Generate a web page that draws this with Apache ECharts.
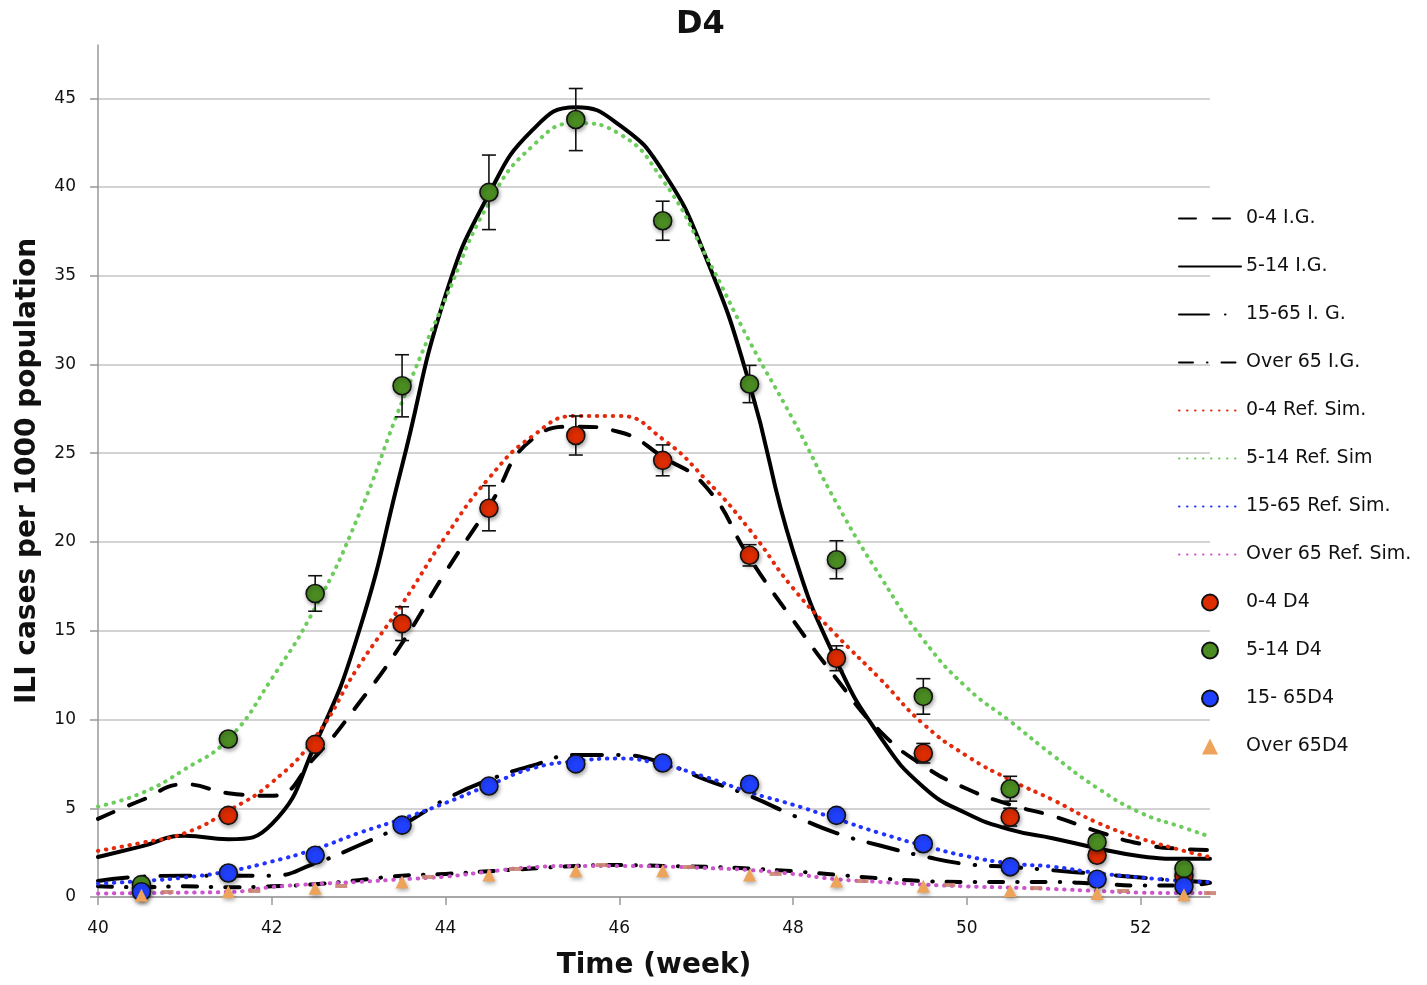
<!DOCTYPE html>
<html>
<head>
<meta charset="utf-8">
<title>D4</title>
<script src="https://cdn.jsdelivr.net/npm/echarts@6/dist/echarts.min.js"></script>
<style>
  html, body { margin: 0; padding: 0; background: #fff; }
  #chart { width: 1427px; height: 985px; }
</style>
</head>
<body>
<div id="chart"></div>
<script>
// weeks where the smooth curves are sampled
const curveWeeks = [40, 40.5, 41, 41.5, 42, 42.5, 43, 43.5, 44, 44.5, 45, 45.5, 46, 46.5, 47, 47.5, 48, 48.5, 49, 49.5, 50, 50.5, 51, 51.5, 52, 52.5, 52.8];

// I.G. curves (black)
const ig0to4 = [4.4, 5.45, 6.35, 5.85, 5.7, 7.9, 10.9, 14.3, 18.3, 22.0, 25.8, 26.5, 26.2, 24.8, 23.1, 19.1, 15.6, 12.3, 9.35, 7.4, 6.1, 5.2, 4.55, 3.7, 3.0, 2.7, 2.65];
const ig5to14 = [2.25, 2.85, 3.45, 3.25, 4.1, 8.6, 14.9, 24.3, 33.9, 39.6, 43.2, 44.5, 43.5, 40.9, 36.0, 28.9, 19.5, 13.3, 9.05, 6.2, 4.7, 3.8, 3.3, 2.75, 2.3, 2.15, 2.15];
const ig15to65 = [0.9, 1.15, 1.2, 1.2, 1.2, 1.9, 2.9, 4.05, 5.5, 6.6, 7.4, 8.0, 8.0, 7.55, 6.6, 5.7, 4.6, 3.6, 2.9, 2.3, 1.85, 1.7, 1.5, 1.3, 1.1, 0.9, 0.85];
const igOver65 = [0.6, 0.55, 0.6, 0.55, 0.6, 0.72, 0.95, 1.2, 1.3, 1.45, 1.6, 1.75, 1.8, 1.75, 1.7, 1.6, 1.45, 1.25, 1.05, 0.9, 0.85, 0.85, 0.85, 0.75, 0.65, 0.65, 0.8];

// Ref. Sim. curves (dotted)
const sim0to4 = [2.6, 3.05, 3.6, 4.85, 6.45, 9.0, 13.0, 16.5, 20.3, 23.6, 25.96, 27.1, 27.1, 25.8, 23.5, 20.7, 17.4, 14.75, 12.3, 9.75, 7.95, 6.6, 5.45, 4.2, 3.3, 2.6, 2.25];
const sim5to14 = [5.1, 5.85, 7.2, 8.9, 12.3, 16.3, 21.5, 27.9, 33.7, 39.1, 42.3, 43.6, 43.0, 40.4, 36.1, 31.3, 26.9, 22.2, 18.1, 14.5, 11.8, 9.9, 7.95, 6.15, 4.75, 3.9, 3.4];
const sim15to65 = [0.75, 0.9, 1.1, 1.45, 2.0, 2.7, 3.6, 4.4, 5.3, 6.3, 7.25, 7.65, 7.8, 7.45, 6.75, 5.9, 5.2, 4.4, 3.6, 2.9, 2.3, 1.9, 1.7, 1.35, 1.1, 0.9, 0.85];
const simOver65 = [0.2, 0.22, 0.25, 0.28, 0.56, 0.73, 0.85, 1.0, 1.15, 1.43, 1.68, 1.75, 1.75, 1.72, 1.63, 1.52, 1.3, 1.0, 0.85, 0.7, 0.6, 0.53, 0.45, 0.34, 0.25, 0.22, 0.22];

// small brownish marks sitting on the Over 65 Ref. Sim. curve
const simOver65MarkWeeks = [40.8, 41.8, 42.8, 43.8, 44.8, 45.8, 46.8, 47.8, 48.8, 49.8, 50.8, 51.8, 52.8];
const simOver65Marks = [0.28, 0.34, 0.62, 1.13, 1.58, 1.8, 1.69, 1.3, 0.9, 0.68, 0.5, 0.34, 0.22];

// D4 observations
const pointWeeks = [40.5, 41.5, 42.5, 43.5, 44.5, 45.5, 46.5, 47.5, 48.5, 49.5, 50.5, 51.5, 52.5];
const d4Age0to4 = [0.5, 4.6, 8.6, 15.4, 21.9, 26.0, 24.6, 19.25, 13.45, 8.1, 4.5, 2.35, 1.2];
const d4Age0to4Err = [0, 0, 0.3, 0.95, 1.27, 1.1, 0.87, 0.6, 0.7, 0.55, 0.5, 0, 0];
const d4Age5to14 = [0.7, 8.9, 17.1, 28.8, 39.7, 43.8, 38.1, 28.9, 19.0, 11.3, 6.1, 3.1, 1.6];
const d4Age5to14Err = [0, 0, 1.0, 1.75, 2.1, 1.75, 1.1, 1.05, 1.07, 1.0, 0.7, 0, 0];
const d4Age15to65 = [0.3, 1.35, 2.35, 4.05, 6.25, 7.5, 7.55, 6.35, 4.6, 3.0, 1.7, 1.0, 0.6];
const d4Over65 = [0.1, 0.3, 0.5, 0.85, 1.24, 1.48, 1.48, 1.24, 0.9, 0.6, 0.35, 0.2, 0.12];

const xTicks = [40, 42, 44, 46, 48, 50, 52];
const yTicks = [0, 5, 10, 15, 20, 25, 30, 35, 40, 45];

const FONT = "'DejaVu Sans', 'Lucida Grande', sans-serif";
const TRIANGLE = "path://M0,-1L1,1L-1,1Z";
const chart = echarts.init(document.getElementById("chart"));

function pairUp(xs, ys) {
  return xs.map((x, i) => [x, ys[i]]);
}

function withErrors(xs, ys, errs) {
  return xs.map((x, i) => [x, ys[i], errs[i]]);
}

function curveSeries(name, values, color, width, dash) {
  return {
    name,
    type: "line",
    data: pairUp(curveWeeks, values),
    smooth: 0.5,
    symbol: "none",
    z: 2,
    lineStyle: { color, width, type: dash, cap: "round", join: "round" },
    itemStyle: { color },
  };
}

function scatterSeries(name, values, color, symbol, size, border) {
  return {
    name,
    type: "scatter",
    data: pairUp(pointWeeks, values),
    symbol,
    symbolSize: size,
    symbolKeepAspect: true,
    z: 5,
    itemStyle: {
      color,
      opacity: 1,
      borderColor: border ? "#111" : color,
      borderWidth: border ? 1.6 : 0,
      shadowColor: "rgba(0, 0, 0, 0.35)",
      shadowBlur: 4,
      shadowOffsetX: 1,
      shadowOffsetY: 2,
    },
  };
}

function renderErrorBar(params, api) {
  const x = api.value(0);
  const y = api.value(1);
  const err = api.value(2);
  if (!err) {
    return null;
  }
  const top = api.coord([x, y + err]);
  const bottom = api.coord([x, y - err]);
  const half = 7;
  const style = { stroke: "#111", lineWidth: 1.6 };
  return {
    type: "group",
    children: [
      { type: "line", shape: { x1: top[0], y1: top[1], x2: bottom[0], y2: bottom[1] }, style },
      { type: "line", shape: { x1: top[0] - half, y1: top[1], x2: top[0] + half, y2: top[1] }, style },
      { type: "line", shape: { x1: bottom[0] - half, y1: bottom[1], x2: bottom[0] + half, y2: bottom[1] }, style },
    ],
  };
}

function errorSeries(data) {
  return {
    type: "custom",
    data,
    z: 4,
    silent: true,
    encode: { x: 0, y: 1 },
    renderItem: renderErrorBar,
  };
}

// line entries show only the stroke, no marker
function lineEntry(name) {
  return { name, itemStyle: { opacity: 0 } };
}

const DOTS = [0.5, 7.5];

chart.setOption({
  animation: false,
  backgroundColor: "#fff",
  title: {
    text: "D4",
    left: 671,
    top: 4,
    textStyle: { fontFamily: FONT, fontSize: 32, fontWeight: "bold", color: "#111" },
  },
  legend: {
    orient: "vertical",
    left: 1173,
    top: 204,
    itemWidth: 62,
    itemHeight: 16,
    itemGap: 29,
    selectedMode: false,
    symbolKeepAspect: true,
    textStyle: { fontFamily: FONT, fontSize: 19, color: "#111" },
    data: [
      lineEntry("0-4 I.G."), lineEntry("5-14 I.G."), lineEntry("15-65 I. G."), lineEntry("Over 65 I.G."),
      lineEntry("0-4 Ref. Sim."), lineEntry("5-14 Ref. Sim"), lineEntry("15-65 Ref. Sim."), lineEntry("Over 65 Ref. Sim."),
      "0-4 D4", "5-14 D4", "15- 65D4", "Over 65D4",
    ],
  },
  grid: { left: 98, right: 217, top: 45, bottom: 87 },
  xAxis: {
    type: "value",
    min: 40,
    max: 52.8,
    interval: 2,
    name: "Time (week)",
    nameLocation: "middle",
    nameGap: 55,
    nameTextStyle: { fontFamily: FONT, fontSize: 28, fontWeight: "bold", color: "#111" },
    axisLine: { lineStyle: { color: "#999", width: 1.5 } },
    axisTick: { show: true, length: 8, customValues: xTicks, lineStyle: { color: "#999", width: 1.5 } },
    axisLabel: { fontFamily: FONT, fontSize: 17, color: "#111", margin: 23, customValues: xTicks },
    splitLine: { show: false },
  },
  yAxis: {
    type: "value",
    min: 0,
    max: 48,
    interval: 5,
    name: "ILI cases per 1000 population",
    nameLocation: "middle",
    nameRotate: 90,
    nameGap: 56,
    nameTextStyle: { fontFamily: FONT, fontSize: 28, fontWeight: "bold", color: "#111" },
    axisLine: { show: true, lineStyle: { color: "#999", width: 1.5 } },
    axisTick: { show: true, length: 8, customValues: yTicks, lineStyle: { color: "#999", width: 1.5 } },
    axisLabel: { fontFamily: FONT, fontSize: 17, color: "#111", margin: 22, customValues: yTicks },
    splitLine: { show: true, lineStyle: { color: "#c4c4c4", width: 1.5 } },
  },
  series: [
    curveSeries("0-4 I.G.", ig0to4, "#000", 4, [17, 17]),
    curveSeries("5-14 I.G.", ig5to14, "#000", 4, "solid"),
    curveSeries("15-65 I. G.", ig15to65, "#000", 4, [30, 16, 0.5, 16]),
    curveSeries("Over 65 I.G.", igOver65, "#000", 4, [14, 14, 0.5, 14]),
    curveSeries("0-4 Ref. Sim.", sim0to4, "#e42a0c", 4, DOTS),
    curveSeries("5-14 Ref. Sim", sim5to14, "#6ccc5c", 4, DOTS),
    curveSeries("15-65 Ref. Sim.", sim15to65, "#2233ff", 4, DOTS),
    curveSeries("Over 65 Ref. Sim.", simOver65, "#cc55cc", 4, DOTS),
    {
      type: "scatter",
      data: pairUp(simOver65MarkWeeks, simOver65Marks),
      symbol: "rect",
      symbolSize: [12, 4],
      z: 3,
      silent: true,
      itemStyle: { color: "#c98272", opacity: 0.9 },
    },
    errorSeries(withErrors(pointWeeks, d4Age0to4, d4Age0to4Err)),
    errorSeries(withErrors(pointWeeks, d4Age5to14, d4Age5to14Err)),
    scatterSeries("0-4 D4", d4Age0to4, "#dd2c00", "circle", 18, true),
    scatterSeries("5-14 D4", d4Age5to14, "#4a8c22", "circle", 18, true),
    scatterSeries("15- 65D4", d4Age15to65, "#2040ff", "circle", 18, true),
    scatterSeries("Over 65D4", d4Over65, "#eea35a", TRIANGLE, 13, false),
  ],
});

window.addEventListener("resize", () => chart.resize());
</script>
</body>
</html>
